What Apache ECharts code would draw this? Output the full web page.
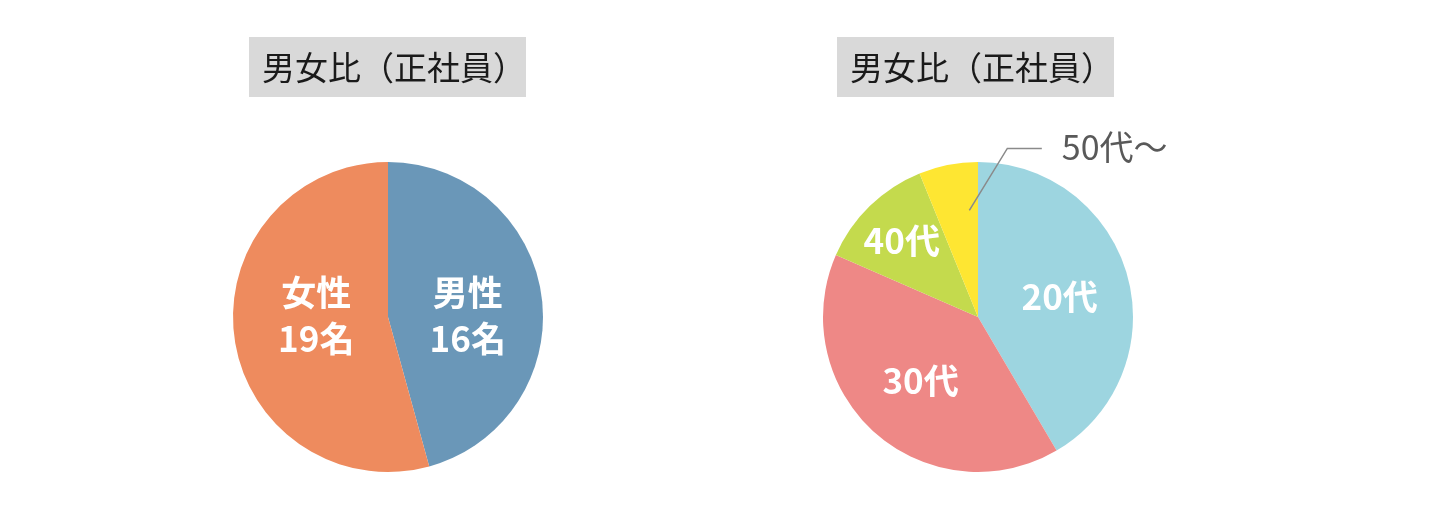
<!DOCTYPE html>
<html>
<head>
<meta charset="utf-8">
<script src="https://cdn.jsdelivr.net/npm/echarts@6/dist/echarts.min.js"></script>
<style>
html,body{margin:0;padding:0;background:#fff;}
#c{width:1445px;height:518px;}
</style>
</head>
<body>
<div id="c"></div>
<script>
// ---- data ----
const titleTexts = ['男女比（正社員）', '男女比（正社員）'];
const genderNames = ['男性', '女性'];
const genderValues = [16, 19];
const genderLabels = ['男性\n16名', '女性\n19名'];
const genderColors = ['#6a97b8', '#ee8b5e'];

const ageNames = ['20代', '30代', '40代', '50代～'];
const ageValues = [27, 26, 8, 4];
const ageColors = ['#9dd5e0', '#ee8886', '#c4da4d', '#fee632'];

// ---- layout ----
const R = 155;
const C1 = [388, 317];
const C2 = [978, 317];
const FONT = '"Noto Sans CJK JP", "Noto Sans CJK SC", sans-serif';

const chart = echarts.init(document.getElementById('c'));

const genderOffsets = [[0, 10], [8, -12]];
const ageOffsets = [[4, 1], [-4, 3], [-20, -19]];

function polar(c, r, deg) {
  const a = deg * Math.PI / 180;
  return [c[0] + r * Math.sin(a), c[1] - r * Math.cos(a)];
}

const ageTotal = ageValues.reduce((a, b) => a + b, 0);
let acc = 0;
const ageStart = ageValues.map(v => { const s = acc; acc += v; return s / ageTotal * 360; });

// leader line for the last (small) slice, derived from its angle
const lastIdx = ageValues.length - 1;
const lastSpan = ageValues[lastIdx] / ageTotal * 360;
const lp0 = polar(C2, R * 0.69, ageStart[lastIdx] + lastSpan * 0.79);
const lp1 = [lp0[0] + 38, lp0[1] - 62];
const lp2 = [lp1[0] + 34.5, lp1[1]];

function titleOpt(text, left) {
  return {
    text: text,
    left: left,
    top: 37,
    padding: [0, 0, 0, 13],
    backgroundColor: '#d9d9d9',
    textStyle: {fontFamily: FONT, fontSize: 33, fontWeight: 'normal', color: '#1a1a1a', lineHeight: 60}
  };
}

chart.setOption({
  animation: false,
  title: [titleOpt(titleTexts[0], 249), titleOpt(titleTexts[1], 837)],
  graphic: [{
    type: 'polyline', z: 100, silent: true,
    shape: {points: [lp0, lp1, lp2]},
    style: {stroke: '#8a8a8a', lineWidth: 1.5, fill: null}
  }],
  series: [
    {
      type: 'pie',
      center: C1,
      radius: R,
      startAngle: 90,
      clockwise: true,
      avoidLabelOverlap: false,
      silent: true,
      label: {
        show: true, position: 'inside', color: '#fff', fontFamily: FONT,
        fontSize: 35, fontWeight: 'bold', lineHeight: 46,
        formatter: p => genderLabels[p.dataIndex]
      },
      labelLine: {show: false},
      labelLayout: p => ({dx: genderOffsets[p.dataIndex][0], dy: genderOffsets[p.dataIndex][1]}),
      data: genderNames.map((n, i) => ({name: n, value: genderValues[i], itemStyle: {color: genderColors[i]}}))
    },
    {
      type: 'pie',
      center: C2,
      radius: R,
      startAngle: 90,
      clockwise: true,
      avoidLabelOverlap: false,
      silent: true,
      label: {
        show: true, position: 'inside', color: '#fff', fontFamily: FONT,
        fontSize: 35, fontWeight: 'bold', formatter: '{b}'
      },
      labelLine: {show: false},
      labelLayout: p => {
        const i = p.dataIndex;
        if (i < lastIdx) return {dx: ageOffsets[i][0], dy: ageOffsets[i][1]};
        return {x: lp2[0] + 20, y: lp2[1] - 1, align: 'left', verticalAlign: 'middle'};
      },
      data: ageNames.map((n, i) => {
        const d = {name: n, value: ageValues[i], itemStyle: {color: ageColors[i]}};
        if (i === lastIdx) {
          d.label = {position: 'outside', color: '#595959', fontWeight: 'normal', fontSize: 34};
        }
        return d;
      })
    }
  ]
});
</script>
</body>
</html>
